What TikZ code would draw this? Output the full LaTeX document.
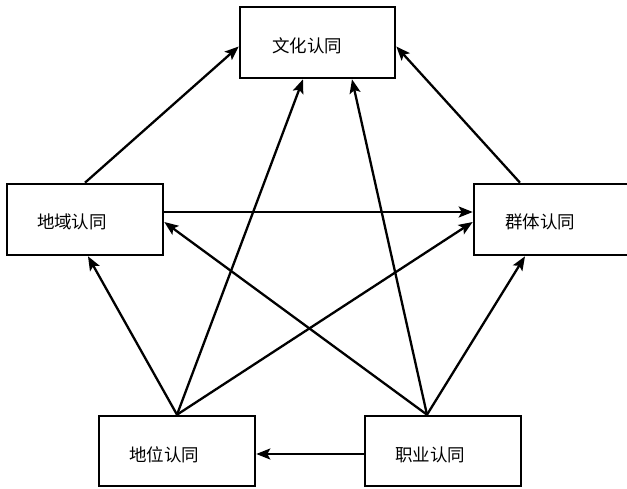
\documentclass[tikz,border=0pt]{standalone}
\usepackage{fontspec}
\newfontfamily\cjk{Noto Sans CJK SC}
\usetikzlibrary{arrows.meta}
\begin{document}
\begin{tikzpicture}[x=1pt,y=-1pt,
 box/.style={draw, line width=2.6pt, minimum width=156pt, minimum height=71pt, inner sep=0pt},
 lbl/.style={inner sep=0pt, font=\cjk\fontsize{17.5}{18}\selectfont},
 arr/.style={line width=2.3pt, -{Stealth[length=14pt,width=11pt,inset=3pt]}}]
\useasboundingbox (0,0) rectangle (627,489);
\node[box, minimum width=155pt] (wh) at (317.5,42.5) {};
\node[box] (dy) at (85,219.5) {};
\node[box, minimum width=158pt] (qt) at (553,219.5) {};
\node[box, minimum height=70pt] (dw) at (177,451) {};
\node[box, minimum height=70pt] (zy) at (443,451) {};
\node[lbl] (whT) at (307,46) {文化认同};
\node[lbl] (dyT) at (72,222) {地域认同};
\node[lbl] (qtT) at (540,222) {群体认同};
\node[lbl] (dwT) at (164,455) {地位认同};
\node[lbl] (zyT) at (430,455) {职业认同};
% connectors
\draw[arr] (dy.north) -- ([yshift=-4pt]wh.west);
\draw[arr] ([xshift=-33pt]qt.north) -- ([yshift=-4pt]wh.east);
\draw[arr] ([yshift=7.5pt]dy.east) -- ([yshift=7.5pt]qt.west);
\draw[arr] ([xshift=-16pt]zy.north) -- ([yshift=-2.5pt]dy.east);
\draw[arr] (dw.north) -- ([yshift=-2.5pt]qt.west);
\draw[arr] (dw.north) -- ([xshift=3pt]dy.south);
\draw[arr] ([xshift=-16pt]zy.north) -- ([xshift=-28pt]qt.south);
\draw[arr] (dw.north) -- ([xshift=-14.5pt]wh.south);
\draw[arr] ([xshift=-16pt]zy.north) -- ([xshift=34.5pt]wh.south);
\draw[arr] ([yshift=-3pt]zy.west) -- ([yshift=-3pt]dw.east);
\end{tikzpicture}
\end{document}
